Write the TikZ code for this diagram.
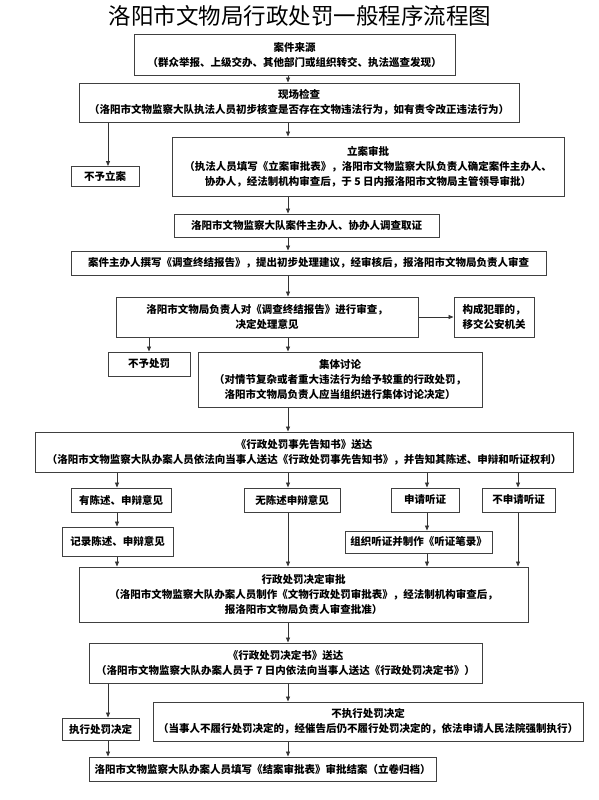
\documentclass[tikz,border=0pt]{standalone}
\usepackage{fontspec}
\newfontfamily\cjk{Noto Sans CJK SC}
\usetikzlibrary{arrows.meta}
\tikzset{
  box/.style={rectangle, draw=black!75, line width=1pt, fill=white, align=center,
    inner sep=0pt, font=\cjk\bfseries\fontsize{10.5}{15}\selectfont},
  arr/.style={-{Triangle[length=5pt,width=4pt]}, line width=0.8pt, draw=black!80},
  ttl/.style={font=\cjk\fontsize{22.5}{26}\selectfont},
}

\begin{document}
\begin{tikzpicture}[x=1pt, y=-1pt]
  \useasboundingbox[fill=white] (0,0) rectangle (598,800);
  \node[ttl] (title) at (300,16) {洛阳市文物局行政处罚一般程序流程图};

  \coordinate (spine) at (288,0);
  \coordinate (lcol) at (108,0);
  \coordinate (acol) at (117,0);
  \coordinate (hcol) at (427,0);
  \coordinate (ncol) at (518,0);

  \node[box, minimum width=321, minimum height=40] (src) at (294.5,55)
    {案件来源\\（群众举报、上级交办、其他部门或组织转交、执法巡查发现）};
  \node[box, minimum width=440, minimum height=39] (site) at (299,102.5)
    {现场检查\\（洛阳市文物监察大队执法人员初步核查是否存在文物违法行为，如有责令改正违法行为）};
  \node[box, minimum width=68, minimum height=20] (nolian) at (105,176.5) {不予立案};
  \node[box, minimum width=392, minimum height=59] (lian) at (368,166.5)
    {立案审批\\（执法人员填写《立案审批表》，洛阳市文物监察大队负责人确定案件主办人、\\协办人，经法制机构审查后，于 5 日内报洛阳市文物局主管领导审批）};
  \node[box, minimum width=265, minimum height=23] (invest) at (306.5,225.5)
    {洛阳市文物监察大队案件主办人、协办人调查取证};
  \node[box, minimum width=475, minimum height=24] (report) at (308.5,263)
    {案件主办人撰写《调查终结报告》，提出初步处理建议，经审核后，报洛阳市文物局负责人审查};
  \node[box, minimum width=302, minimum height=40] (review) at (267,317)
    {洛阳市文物局负责人对《调查终结报告》进行审查，\\决定处理意见};
  \node[box, minimum width=80, minimum height=40] (crime) at (494,317)
    {构成犯罪的，\\移交公安机关};
  \node[box, minimum width=82, minimum height=24] (nopun) at (149,364) {不予处罚};
  \node[box, minimum width=284, minimum height=55] (group) at (340,379.5)
    {集体讨论\\（对情节复杂或者重大违法行为给予较重的行政处罚，\\洛阳市文物局负责人应当组织进行集体讨论决定）};
  \node[box, minimum width=538, minimum height=40] (notice) at (304,452)
    {《行政处罚事先告知书》送达\\（洛阳市文物监察大队办案人员依法向当事人送达《行政处罚事先告知书》，并告知其陈述、申辩和听证权利）};

  \node[box, minimum width=100, minimum height=24] (state) at (121,500) {有陈述、申辩意见};
  \node[box, minimum width=96, minimum height=24] (nostate) at (292,500) {无陈述申辩意见};
  \node[box, minimum width=68, minimum height=24] (hearreq) at (425,500) {申请听证};
  \node[box, minimum width=73, minimum height=24] (nohear) at (518.5,500) {不申请听证};
  \node[box, minimum width=111, minimum height=29] (record) at (117.5,541.5) {记录陈述、申辩意见};
  \node[box, minimum width=147, minimum height=22] (hearing) at (418.5,542) {组织听证并制作《听证笔录》};

  \node[box, minimum width=449, minimum height=55] (approve) at (303.5,594.5)
    {行政处罚决定审批\\（洛阳市文物监察大队办案人员制作《文物行政处罚审批表》，经法制机构审查后，\\报洛阳市文物局负责人审查批准）};
  \node[box, minimum width=393, minimum height=40] (decide) at (285.5,663)
    {《行政处罚决定书》送达\\（洛阳市文物监察大队办案人员于 7 日内依法向当事人送达《行政处罚决定书》）};
  \node[box, minimum width=77, minimum height=22] (exec) at (100.5,729) {执行处罚决定};
  \node[box, minimum width=430, minimum height=39] (noexec) at (368,721.5)
    {不执行处罚决定\\（当事人不履行处罚决定的，经催告后仍不履行处罚决定的，依法申请人民法院强制执行）};
  \node[box, minimum width=347, minimum height=24] (final) at (262.5,769)
    {洛阳市文物监察大队办案人员填写《结案审批表》审批结案（立卷归档）};

  \draw[arr] (src.south -| spine) -- (site.north -| spine);
  \draw[arr] (site.south -| lcol) -- (nolian.north -| lcol);
  \draw[arr] (site.south -| spine) -- (lian.north -| spine);
  \draw[arr] (lian.south -| spine) -- (invest.north -| spine);
  \draw[arr] (invest.south -| spine) -- (report.north -| spine);
  \draw[arr] (report.south -| spine) -- (review.north -| spine);
  \draw[arr] (review.east) -- (crime.west);
  \draw[arr] (review.south -| nopun) -- (nopun.north);
  \draw[arr] (review.south -| spine) -- (group.north -| spine);
  \draw[arr] (group.south -| spine) -- (notice.north -| spine);
  \draw[arr] (notice.south -| acol) -- (state.north -| acol);
  \draw[arr] (notice.south -| spine) -- (nostate.north -| spine);
  \draw[arr] (notice.south -| hcol) -- (hearreq.north -| hcol);
  \draw[arr] (notice.south -| ncol) -- (nohear.north -| ncol);
  \draw[arr] (state.south -| acol) -- (record.north -| acol);
  \draw[arr] (hearreq.south -| hcol) -- (hearing.north -| hcol);
  \draw[arr] (record.south -| acol) -- (approve.north -| acol);
  \draw[arr] (nostate.south -| spine) -- (approve.north -| spine);
  \draw[arr] (hearing.south -| hcol) -- (approve.north -| hcol);
  \draw[arr] (nohear.south -| ncol) -- (approve.north -| ncol);
  \draw[arr] (approve.south -| spine) -- (decide.north -| spine);
  \draw[arr] (decide.south -| lcol) -- (exec.north -| lcol);
  \draw[arr] (decide.south -| spine) -- (noexec.north -| spine);
  \draw[arr] (exec.south -| lcol) -- (final.north -| lcol);
  \draw[arr] (noexec.south -| spine) -- (final.north -| spine);
\end{tikzpicture}
\end{document}
